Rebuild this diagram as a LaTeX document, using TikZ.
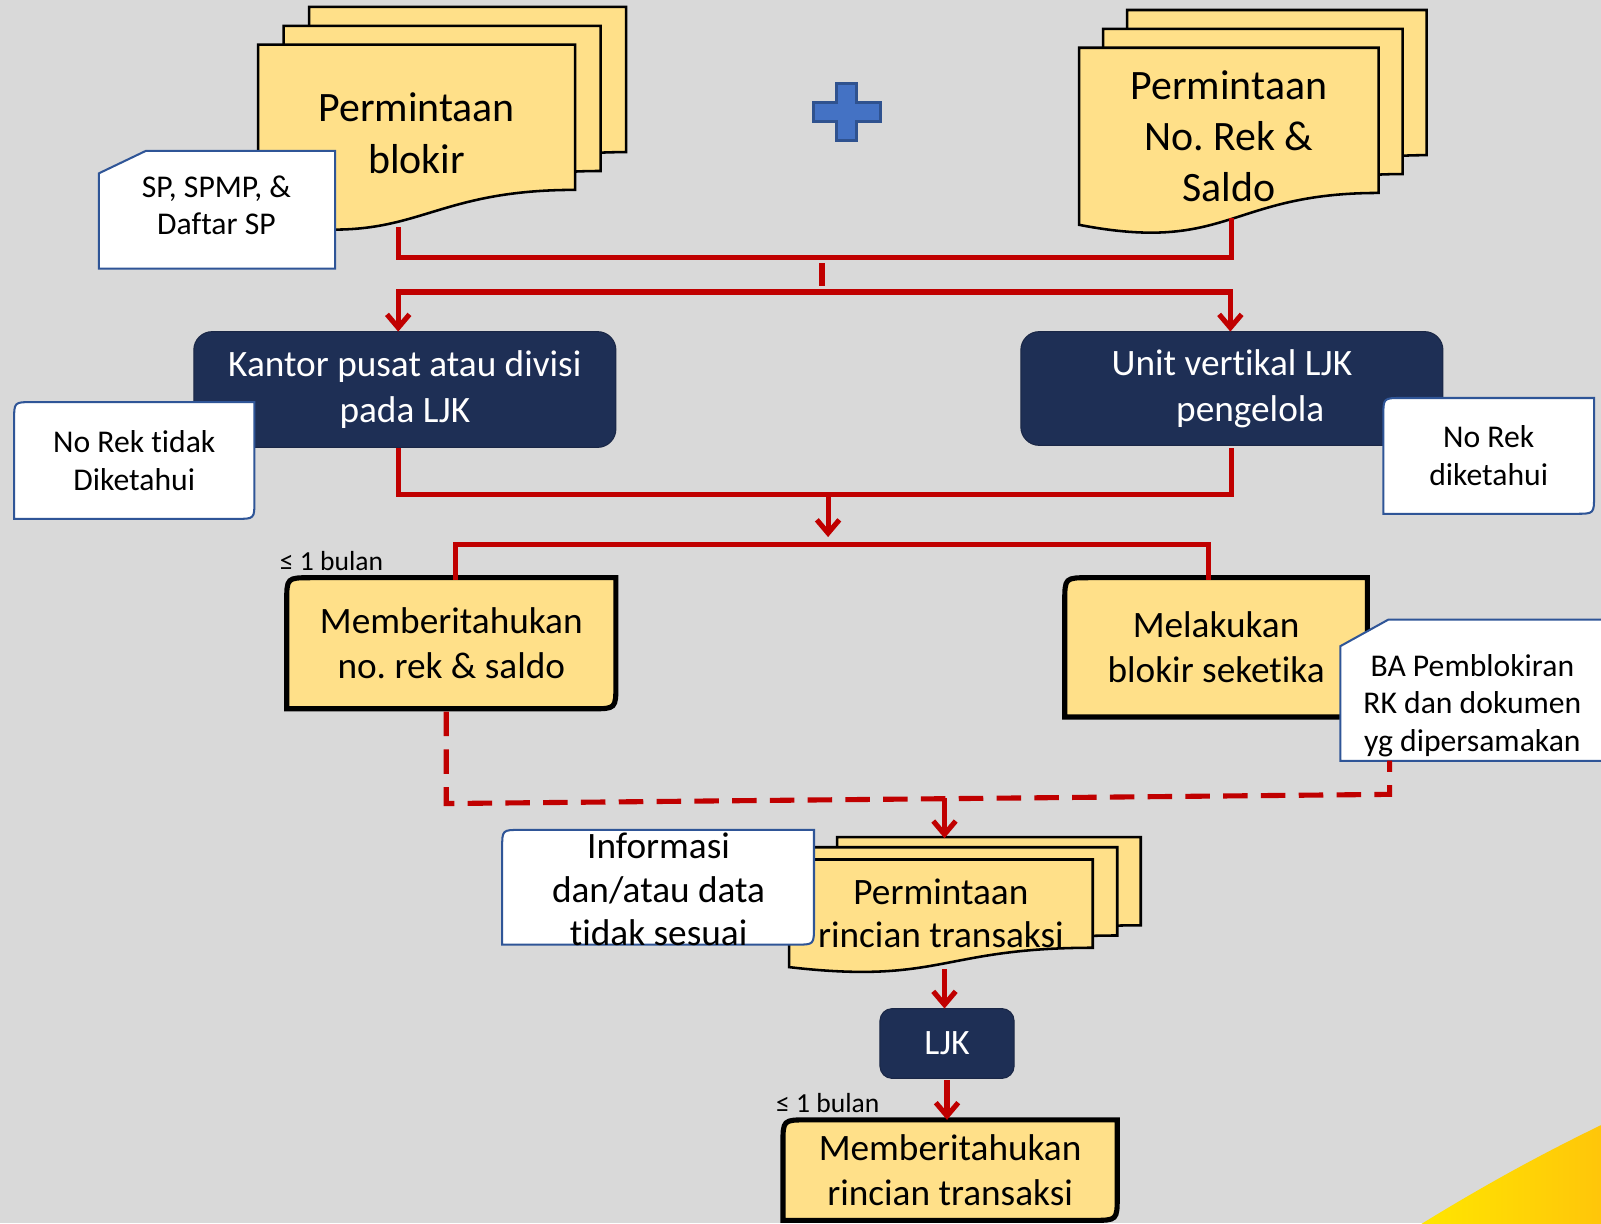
\documentclass[tikz,border=0pt]{standalone}
\usepackage{fontspec}
\setmainfont{Carlito}[Ligatures=NoCommon]
\usetikzlibrary{arrows.meta,calc,backgrounds}
\frenchspacing

\definecolor{canvas}{HTML}{D9D9D9}
\definecolor{docyellow}{HTML}{FFE089}
\definecolor{navy}{HTML}{1E2F55}
\definecolor{navyedge}{HTML}{1A2746}
\definecolor{noteblue}{HTML}{2F5597}
\definecolor{flowred}{HTML}{C00000}
\definecolor{plusfill}{HTML}{4472C4}
\definecolor{plusedge}{HTML}{2F528F}
\definecolor{cornerA}{HTML}{FFE600}
\definecolor{cornerB}{HTML}{FFC50A}

% page of a document stack: wavy bottom, drawn from the front page's node, shifted
\newcommand\docpage[3]{%
  \path[docstyle] let \p1=($(#1.north west)+(#2,#3)$), \p2=($(#1.south east)+(#2,#3)$),
    \n1={\y1-0.82*(\y1-\y2)}, \n2={\y1-1.164*(\y1-\y2)}, \n3={(\x1+\x2)/2} in
    (\x1,\y1) -- (\x2,\y1) -- (\x2,\n1) .. controls (\n3,\n1) and (\n3,\n2) .. (\x1,\y2) -- cycle;}
% rectangle with rounded top-left and bottom-right corners
\newcommand\diagcornerbox[3]{%
  \path[#1] (#2.south west) -- ($(#2.north west)+(0,-#3)$) .. controls (#2.north west) .. ($(#2.north west)+(#3,0)$)
    -- (#2.north east) -- ($(#2.south east)+(0,#3)$) .. controls (#2.south east) .. ($(#2.south east)+(-#3,0)$) -- cycle;}
% rectangle with a snipped top-left corner
\newcommand\snipbox[4]{%
  \path[#1] (#2.south west) -- ($(#2.north west)+(0,-#4)$) -- ($(#2.north west)+(#3,0)$)
    -- (#2.north east) -- (#2.south east) -- cycle;}

\begin{document}
\begin{tikzpicture}[x=1pt,y=1pt,
  frame/.style={rectangle, inner sep=0pt, align=center},
  doctext/.style={frame, font=\fontsize{41}{50}\selectfont},
  doctextsmall/.style={frame, font=\fontsize{36.5}{43}\selectfont},
  navytext/.style={frame, text=white, font=\fontsize{36.5}{45}\selectfont},
  boxtext/.style={frame, font=\fontsize{36.5}{44}\selectfont},
  notetext/.style={frame, font=\fontsize{31}{37}\selectfont},
  smalllabel/.style={inner sep=0pt, font=\fontsize{27}{30}\selectfont},
  docstyle/.style={fill=docyellow, draw=black, line width=2.5pt, line join=miter},
  notestyle/.style={fill=white, draw=noteblue, line width=2pt},
  navystyle/.style={fill=navy, draw=navyedge, line width=1pt, rounded corners=18pt},
  actionstyle/.style={fill=docyellow, draw=black, line width=5pt},
  redline/.style={draw=flowred, line width=5pt, line cap=rect, line join=miter},
  redarrow/.style={draw=flowred, line width=5pt, -{Straight Barb[length=13pt,width=22pt]}},
  reddash/.style={draw=flowred, line width=5pt, dash pattern=on 24pt off 13pt}]

\useasboundingbox (0,0) rectangle (1568,1198);

% ---------- nodes ----------
\node[doctext, minimum width=310, minimum height=173] (blokir) at (408,1067.5) {Permintaan\\blokir};
\node[notetext, minimum width=231, minimum height=115] (spbox) at (212.5,992.5) {};
\node[notetext] (sptext) at (212,997) {SP, SPMP, \&\\Daftar SP};
\node[doctext, minimum width=293, minimum height=173] (norek) at (1203.5,1064.5) {Permintaan\\No. Rek \&\\Saldo};

\node[navytext, minimum width=413, minimum height=113] (kantor) at (396.5,816.5) {Kantor pusat atau divisi\\pada LJK};
\node[navytext, minimum width=413, minimum height=111] (unit) at (1206.5,817.5) {Unit vertikal LJK\\\hspace*{36pt}pengelola};
\node[notetext, minimum width=235, minimum height=114] (tidak) at (131.5,747) {No Rek tidak\\Diketahui};
\node[notetext, minimum width=206, minimum height=113] (tahu) at (1458,751.5) {No Rek\\diketahui};

\node[smalllabel, anchor=west] (bulanA) at (274,649) {≤ 1 bulan};
\node[boxtext, minimum width=322, minimum height=128] (membA) at (442,568) {Memberitahukan\\no. rek \& saldo};
\node[boxtext, minimum width=296, minimum height=136] (melak) at (1191,564) {Melakukan\\blokir seketika};
\node[notetext, minimum width=259, minimum height=138] (babox) at (1442.5,522) {};
\node[notetext] (batext) at (1442,507) {BA Pemblokiran\\RK dan dokumen\\yg dipersamakan};

\node[doctextsmall, minimum width=297, minimum height=105] (rincian) at (921.5,303.5) {Permintaan\\rincian transaksi};
\node[notetext, minimum width=305, minimum height=112] (infobox) at (644.5,329) {};
\node[doctextsmall] (infotext) at (645,327) {Informasi\\dan/atau data\\tidak sesuai};

\node[navytext, font=\fontsize{35}{42}\selectfont, minimum width=131, minimum height=68] (ljk) at (927.5,176) {LJK};
\node[smalllabel, anchor=west] (bulanB) at (760,118) {≤ 1 bulan};
\node[boxtext, minimum width=327, minimum height=98] (membB) at (930.5,52) {Memberitahukan\\rincian transaksi};

% ---------- shapes behind the text ----------
\begin{pgfonlayer}{background}
  \fill[canvas] (0,0) rectangle (1568,1198);
  \shade[left color=cornerA, right color=cornerB]
    (1390,-2) .. controls (1455,38) and (1510,68) .. (1572,98) -- (1572,-2) -- cycle;

  % first request stack
  \docpage{blokir}{50}{37}
  \docpage{blokir}{25}{18.5}
  \docpage{blokir}{0}{0}
  \snipbox{notestyle}{spbox}{46}{22}

  % plus sign
  \path[fill=plusfill, draw=plusedge, line width=3pt]
    (819,1116) -- (839,1116) -- (839,1098) -- (862,1098) -- (862,1079) -- (839,1079)
    -- (839,1060) -- (819,1060) -- (819,1079) -- (797,1079) -- (797,1098) -- (819,1098) -- cycle;

  % second request stack
  \docpage{norek}{47}{37}
  \docpage{norek}{23.5}{18.5}
  \docpage{norek}{0}{0}

  % receiving units
  \path[navystyle] (kantor.south west) rectangle (kantor.north east);
  \path[navystyle] (unit.south west) rectangle (unit.north east);
  \diagcornerbox{notestyle}{tidak}{18}
  \diagcornerbox{notestyle}{tahu}{18}

  % actions
  \diagcornerbox{actionstyle}{membA}{24}
  \diagcornerbox{actionstyle}{melak}{24}
  \snipbox{notestyle}{babox}{47}{26}

  % transaction detail request stack
  \docpage{rincian}{47}{22}
  \docpage{rincian}{24}{12}
  \docpage{rincian}{0}{0}
  \diagcornerbox{notestyle}{infobox}{18}

  \path[navystyle, rounded corners=12pt] (ljk.south west) rectangle (ljk.north east);
  \diagcornerbox{actionstyle}{membB}{24}
\end{pgfonlayer}

% ---------- connectors ----------
\coordinate (blkout) at (390,973);
\coordinate (rekout) at (1206,982);
\coordinate (mergeA) at (805,946);
\draw[redline] (blkout) |- (mergeA) -| (rekout);

\coordinate (stubtop) at (805,938);
\coordinate (stubbot) at (805,920);
\draw[redline] (stubtop) -- (stubbot);

\coordinate (splitL) at (390,912);
\coordinate (splitR) at (1205,912);
\draw[redline] (splitL) -- (splitR);
\draw[redarrow] (splitL) -- (splitL |- kantor.north);
\draw[redarrow] (splitR) -- (splitR |- unit.north);

\coordinate (kout) at (390,757);
\coordinate (uout) at (1206,757);
\coordinate (mergeB) at (811,714);
\coordinate (mergeBtip) at (811,672);
\draw[redline] (kout) |- (mergeB) -| (uout);
\draw[redarrow] (mergeB) -- (mergeBtip);

\coordinate (splitBL) at (446,665);
\coordinate (splitBR) at (1184,665);
\draw[redline] (splitBL |- membA.north) -- (splitBL) -- (splitBR) -- (splitBR |- melak.north);

\coordinate (maout) at (437,501);
\coordinate (dashL) at (437,411);
\coordinate (dashR) at (1361,420);
\coordinate (baout) at (1361,453);
\draw[reddash] (maout) -- (dashL) -- (dashR) -- (baout);

\coordinate (dashtap) at (925,416);
\coordinate (rinin) at (925,377);
\draw[redarrow] (dashtap) -- (rinin);

\coordinate (rinout) at (925,249);
\draw[redarrow] (rinout) -- (rinout |- ljk.north);
\draw[redarrow] ([yshift=-2pt]ljk.south) -- (ljk.south |- membB.north);

\end{tikzpicture}
\end{document}
